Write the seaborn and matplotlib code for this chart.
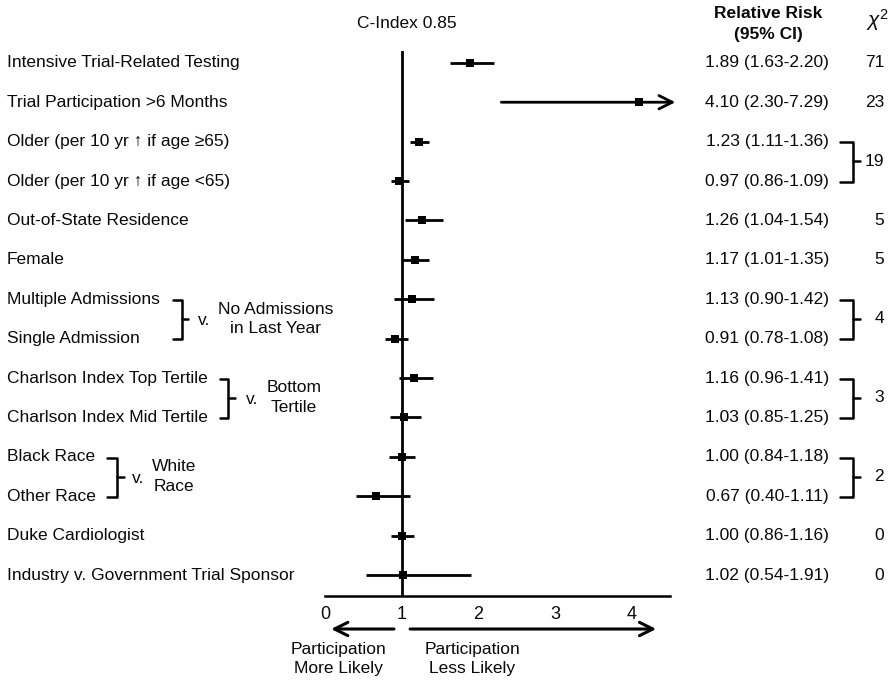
import matplotlib
matplotlib.use("Agg")
import matplotlib.pyplot as plt
import matplotlib.transforms as mtransforms
import seaborn as sns
import pandas as pd

# ---------------- data ----------------
labels = [
    "Intensive Trial-Related Testing",
    "Trial Participation >6 Months",
    "Older (per 10 yr \u2191 if age \u226565)",
    "Older (per 10 yr \u2191 if age <65)",
    "Out-of-State Residence",
    "Female",
    "Multiple Admissions",
    "Single Admission",
    "Charlson Index Top Tertile",
    "Charlson Index Mid Tertile",
    "Black Race",
    "Other Race",
    "Duke Cardiologist",
    "Industry v. Government Trial Sponsor",
]
rr = [1.89, 4.10, 1.23, 0.97, 1.26, 1.17, 1.13, 0.91, 1.16, 1.03, 1.00, 0.67, 1.00, 1.02]
ci_low = [1.63, 2.30, 1.11, 0.86, 1.04, 1.01, 0.90, 0.78, 0.96, 0.85, 0.84, 0.40, 0.86, 0.54]
ci_high = [2.20, 7.29, 1.36, 1.09, 1.54, 1.35, 1.42, 1.08, 1.41, 1.25, 1.18, 1.11, 1.16, 1.91]
# chi-square: single rows and grouped rows (first row index, value)
chi_single = {0: "71", 1: "23", 4: "5", 5: "5", 12: "0", 13: "0"}
chi_groups = [(2, "19"), (6, "4"), (8, "3"), (10, "2")]
# left-side comparison groups: (first row, reference text)
ref_groups = [(6, "No Admissions\nin Last Year"), (8, "Bottom\nTertile"), (10, "White\nRace")]
xticks = [0, 1, 2, 3, 4]
c_index = "C-Index 0.85"

df = pd.DataFrame({"label": labels, "rr": rr, "lo": ci_low, "hi": ci_high,
                   "row": list(range(len(labels)))})

# ---------------- figure ----------------
W, H = 896, 682
sns.set_theme(style="white")
plt.rcParams["font.family"] = ["Liberation Sans", "DejaVu Sans"]
plt.rcParams["mathtext.fontset"] = "custom"
plt.rcParams["mathtext.rm"] = "Liberation Sans"
plt.rcParams["mathtext.it"] = "Liberation Sans:italic"

fig = plt.figure(figsize=(W / 100, H / 100), dpi=100)
fig.patch.set_facecolor("white")

# main forest axes (pixel geometry: x 325..670, y 51..596)
ax = fig.add_axes([325 / W, (H - 596) / H, 345 / W, 545 / H])
ax.set_facecolor("none")
XMAX = 4.5
ax.set_xlim(0, XMAX)
ax.set_ylim(13.53, -0.30)

# overlay axes in pixel coords for annotations
ov = fig.add_axes([0, 0, 1, 1], zorder=-1)
ov.set_xlim(0, W)
ov.set_ylim(H, 0)
ov.axis("off")

FS = 12.5
TC = "#0a0a0a"
blend = mtransforms.blended_transform_factory(ov.transData, ax.transData)   # x pixel, y row
blend_b = mtransforms.blended_transform_factory(ax.transData, ov.transData)  # x data, y pixel

# reference line at 1
ax.axvline(1, color="black", lw=2, zorder=1)

# CI lines
for _, r in df.iterrows():
    if r.hi <= XMAX:
        ax.plot([r.lo, r.hi], [r.row, r.row], color="black", lw=2, solid_capstyle="butt", zorder=2)
    else:
        ax.annotate("", xy=(4.57, r.row), xytext=(r.lo, r.row), xycoords="data",
                    arrowprops=dict(arrowstyle="->,head_length=0.8,head_width=0.4",
                                    color="black", lw=2, shrinkA=0, shrinkB=0),
                    annotation_clip=False, zorder=2)

# point estimates
sns.scatterplot(data=df, x="rr", y="row", marker="s", color="black", s=36,
                edgecolor="black", linewidth=0, ax=ax, zorder=3, legend=False)

# axes styling
for side in ["top", "right", "left"]:
    ax.spines[side].set_visible(False)
ax.spines["bottom"].set_color("black")
ax.spines["bottom"].set_linewidth(1.8)
ax.set_xticks(xticks)
ax.set_xticklabels([str(t) for t in xticks], fontsize=FS + 0.5)
ax.tick_params(axis="x", direction="out", length=4, width=1.5, pad=3, colors=TC)
ax.set_yticks([])
ax.set_xlabel("")
ax.set_ylabel("")

# row labels
for i, lab in enumerate(labels):
    ov.text(7, i, lab, transform=blend, ha="left", va="center", fontsize=FS, color=TC)

# RR text column
for i in range(len(labels)):
    ov.text(767, i, f"{rr[i]:.2f} ({ci_low[i]:.2f}-{ci_high[i]:.2f})", transform=blend,
            ha="center", va="center", fontsize=FS, color=TC)

# chi-square singles
for i, v in chi_single.items():
    ov.text(884, i, v, transform=blend, ha="right", va="center", fontsize=FS, color=TC)


def bracket(xv, row, xl, xt):
    y0, y1 = row + 0.02, row + 1 + 0.02
    ov.plot([xl, xv, xv, xl], [y0, y0, y1, y1], transform=blend, color="black", lw=1.8,
            clip_on=False, solid_joinstyle="round")
    ov.plot([xv, xt], [row + 0.5, row + 0.5], transform=blend, color="black", lw=1.8, clip_on=False)


for row, v in chi_groups:
    bracket(853, row, 840, 860)
    ov.text(884, row + 0.5, v, transform=blend, ha="right", va="center", fontsize=FS, color=TC)

# left brackets
left_geom = {6: (182, 173, 188, 204, 276), 8: (228, 220, 235, 252, 294), 10: (117, 107, 124, 138, 174)}
for row, txt in ref_groups:
    xv, xl, xt, xvtext, xref = left_geom[row]
    bracket(xv, row, xl, xt)
    ov.text(xvtext, row + 0.55, "v.", transform=blend, ha="center", va="center", fontsize=FS,
            color=TC)
    ov.text(xref, row + 0.5, txt, transform=blend, ha="center", va="center", fontsize=FS,
            color=TC, linespacing=1.4)

# headers
ov.text(407, 23, c_index, ha="center", va="center", fontsize=FS, color=TC)
ov.text(768, 14, "Relative Risk", ha="center", va="center", fontsize=FS, fontweight="bold", color=TC)
ov.text(768, 35, "(95% CI)", ha="center", va="center", fontsize=FS, fontweight="bold", color=TC)
ov.text(878, 20, r"$\chi^2$", ha="center", va="center", fontsize=FS + 2.5, color=TC)

# bottom direction arrows
ax.annotate("", xy=(0.08, 629), xytext=(0.9, 629), xycoords=blend_b, textcoords=blend_b,
            arrowprops=dict(arrowstyle="->,head_length=0.8,head_width=0.4", color="black", lw=2.2,
                            shrinkA=0, shrinkB=0), annotation_clip=False)
ax.annotate("", xy=(4.32, 629), xytext=(1.11, 629), xycoords=blend_b, textcoords=blend_b,
            arrowprops=dict(arrowstyle="->,head_length=0.8,head_width=0.4", color="black", lw=2.2,
                            shrinkA=0, shrinkB=0), annotation_clip=False)
ov.text(338, 659, "Participation\nMore Likely", ha="center", va="center", fontsize=FS,
        color=TC, linespacing=1.4)
ov.text(472, 659, "Participation\nLess Likely", ha="center", va="center", fontsize=FS,
        color=TC, linespacing=1.4)

fig.savefig("out.png", dpi=100, facecolor="white")
